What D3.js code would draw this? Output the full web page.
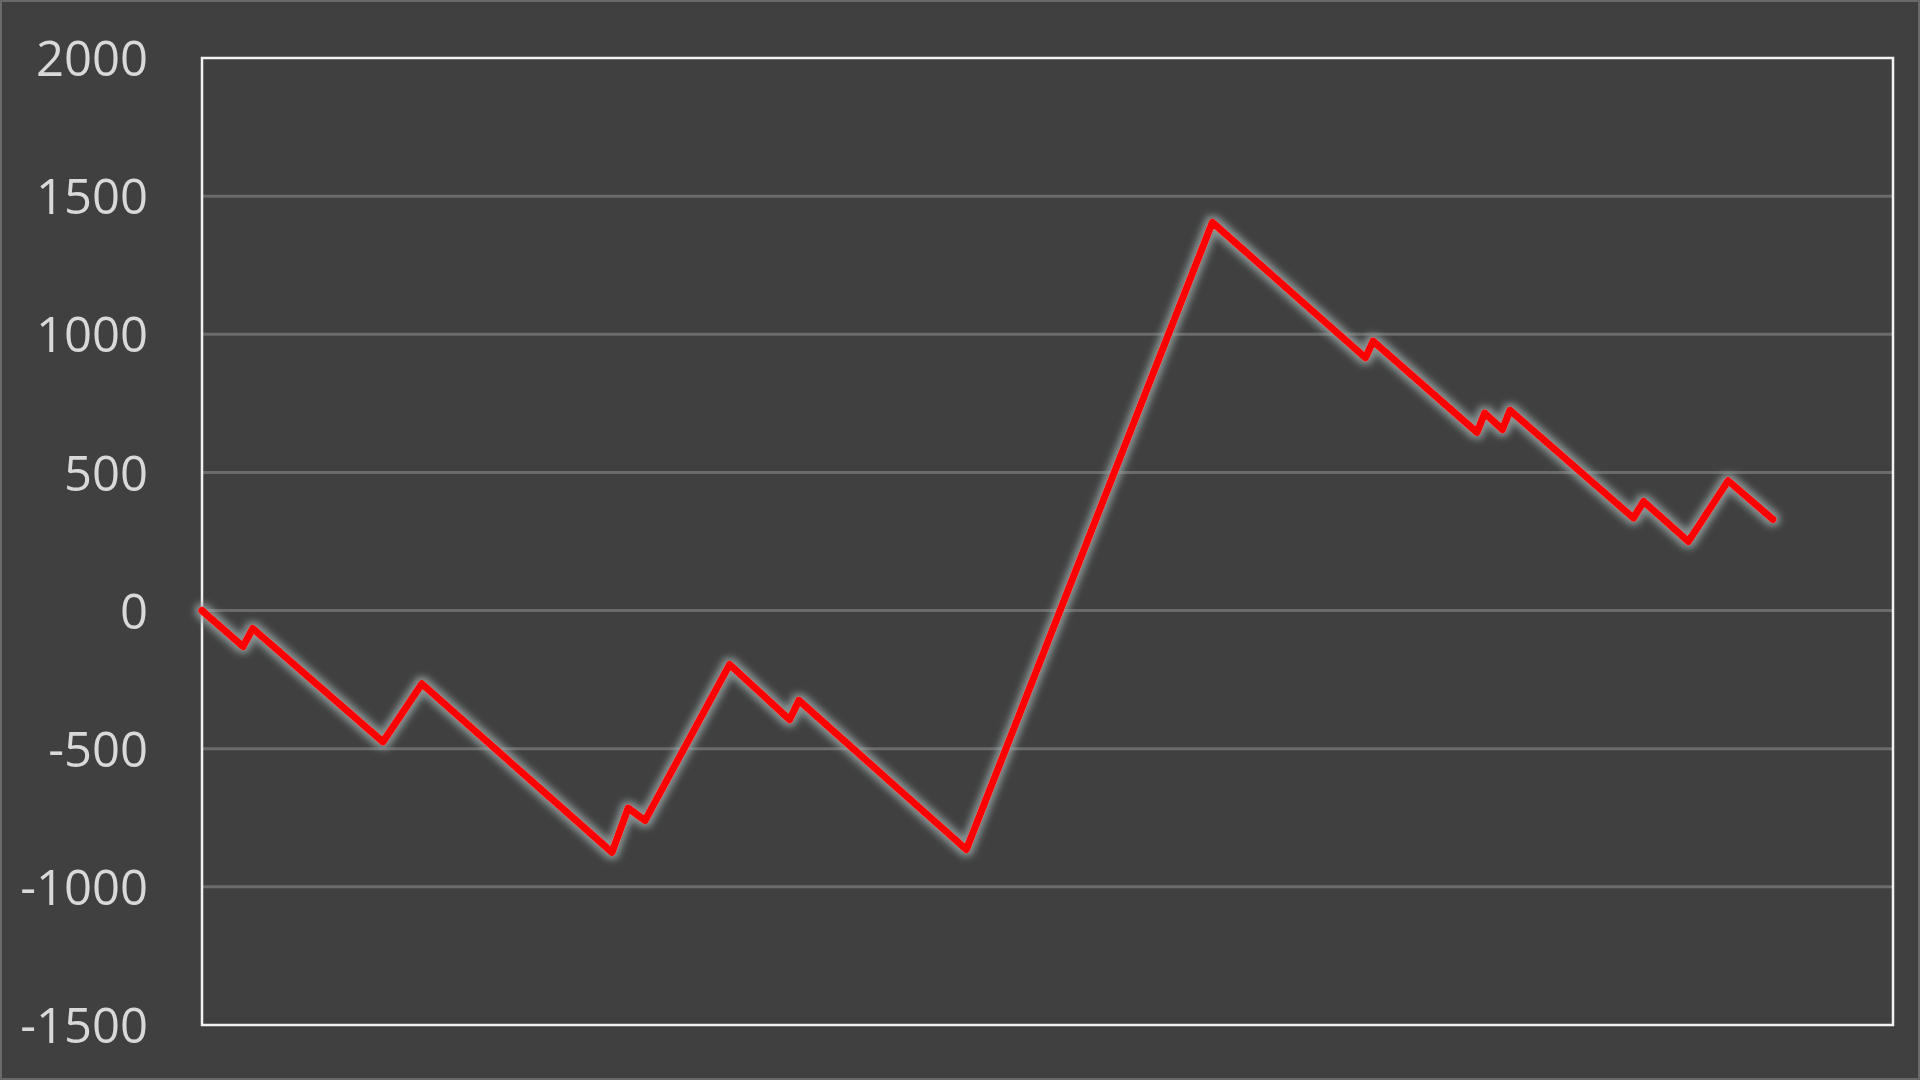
<!DOCTYPE html>
<html>
<head>
<meta charset="utf-8">
<script src="https://cdn.jsdelivr.net/npm/d3@7/dist/d3.min.js"></script>
<style>
  html, body { margin: 0; padding: 0; background: #404040; }
  svg { display: block; }
</style>
</head>
<body>
<div id="chart"></div>
<script>
// 數據：折線轉折點（x 為序號，y 為累計值）
const xValues = [0, 4.85, 6.0, 21.4, 26.0, 48.5, 50.4, 52.4, 62.4, 69.5, 70.6, 90.4,
                 119.5, 137.6, 138.5, 150.8, 151.7, 153.8, 154.7, 169.3, 170.5, 175.8, 180.5, 185.8];
const yValues = [0, -130, -65, -475, -265, -875, -715, -760, -195, -395, -325, -865,
                 1405, 915, 975, 645, 715, 655, 725, 335, 395, 250, 470, 330];
const yTicks = [2000, 1500, 1000, 500, 0, -500, -1000, -1500];
const xDomain = [0, 200];

function drawChart(containerSelector) {
  const width = 1920, height = 1080;
  const margin = {top: 58, right: 27, bottom: 55, left: 202};
  const innerW = width - margin.left - margin.right;
  const innerH = height - margin.top - margin.bottom;

  const svg = d3.select(containerSelector).append("svg")
      .attr("width", width)
      .attr("height", height);

  // 背景與外框
  svg.append("rect")
      .attr("x", 1).attr("y", 1)
      .attr("width", width - 2).attr("height", height - 2)
      .attr("fill", "#404040")
      .attr("stroke", "#6a6a6a")
      .attr("stroke-width", 2);

  // 發光濾鏡
  const defs = svg.append("defs");
  const glow = defs.append("filter")
      .attr("id", "glow")
      .attr("x", "-10%").attr("y", "-10%")
      .attr("width", "120%").attr("height", "120%");
  glow.append("feMorphology")
      .attr("in", "SourceAlpha")
      .attr("operator", "dilate")
      .attr("radius", 3)
      .attr("result", "thick");
  glow.append("feGaussianBlur")
      .attr("in", "thick")
      .attr("stdDeviation", 3.5)
      .attr("result", "blur");
  glow.append("feFlood")
      .attr("flood-color", "#9aa6a6")
      .attr("flood-opacity", 0.8);
  glow.append("feComposite")
      .attr("in2", "blur")
      .attr("operator", "in")
      .attr("result", "halo");
  const merge = glow.append("feMerge");
  merge.append("feMergeNode").attr("in", "halo");
  merge.append("feMergeNode").attr("in", "SourceGraphic");

  const g = svg.append("g")
      .attr("transform", `translate(${margin.left},${margin.top})`);

  const x = d3.scaleLinear().domain(xDomain).range([0, innerW]);
  const y = d3.scaleLinear().domain([-1500, 2000]).range([innerH, 0]);

  // 格線
  g.append("g")
      .selectAll("line")
      .data(yTicks.filter(d => d !== 2000 && d !== -1500))
      .join("line")
      .attr("x1", 0)
      .attr("x2", innerW)
      .attr("y1", d => y(d))
      .attr("y2", d => y(d))
      .attr("stroke", "#6b6b6b")
      .attr("stroke-width", 3);

  // Y 軸標籤
  const yAxis = d3.axisLeft(y)
      .tickValues(yTicks)
      .tickFormat(d => String(d))
      .tickSize(0)
      .tickPadding(54);
  const axisG = g.append("g").call(yAxis);
  axisG.select(".domain").remove();
  axisG.selectAll("text")
      .attr("fill", "#d9d9d9")
      .attr("dy", "0.36em")
      .style("font-family", "'Open Sans', 'Liberation Sans', sans-serif")
      .style("font-size", "49px");

  // 繪圖區外框
  g.append("rect")
      .attr("x", 0).attr("y", 0)
      .attr("width", innerW).attr("height", innerH)
      .attr("fill", "none")
      .attr("stroke", "#f2f2f2")
      .attr("stroke-width", 2.5);

  // 折線
  const points = xValues.map((d, i) => [d, yValues[i]]);
  const line = d3.line()
      .x(d => x(d[0]))
      .y(d => y(d[1]));

  g.append("path")
      .datum(points)
      .attr("d", line)
      .attr("fill", "none")
      .attr("stroke", "#ff0000")
      .attr("stroke-width", 7.5)
      .attr("stroke-linejoin", "round")
      .attr("stroke-linecap", "round")
      .attr("filter", "url(#glow)");
}

drawChart("#chart");
</script>
</body>
</html>
